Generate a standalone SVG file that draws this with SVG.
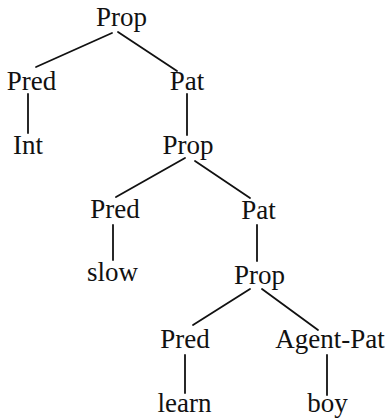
<svg xmlns="http://www.w3.org/2000/svg" width="388" height="418" viewBox="0 0 388 418">
<style>
text{font-family:"Liberation Serif","Times New Roman",serif;font-size:27px;fill:#111;text-anchor:middle}
.e line{stroke:#111;stroke-width:1.8;stroke-linecap:round}
</style>
<rect width="388" height="418" fill="#fff"/>
<g class="e" id="connectors">
<line x1="112" y1="33" x2="36" y2="67"/>
<line x1="118" y1="32" x2="177" y2="71"/>
<line x1="28" y1="94" x2="28" y2="133"/>
<line x1="187" y1="94" x2="187" y2="135"/>
<line x1="185" y1="158" x2="116" y2="197"/>
<line x1="195" y1="161" x2="250" y2="198"/>
<line x1="113" y1="225" x2="113" y2="260"/>
<line x1="257" y1="225" x2="257" y2="261"/>
<line x1="250" y1="289" x2="193" y2="325"/>
<line x1="262" y1="289" x2="318" y2="330"/>
<line x1="185" y1="355" x2="185" y2="393"/>
<line x1="327" y1="355" x2="327" y2="395"/>
</g>
<g id="prop1"><text x="121.5" y="26">Prop</text></g>
<g id="pred1"><text x="31.5" y="90">Pred</text></g>
<g id="int"><text x="28" y="154">Int</text></g>
<g id="pat1"><text x="187" y="90">Pat</text></g>
<g id="prop2"><text x="188" y="154">Prop</text></g>
<g id="pred2"><text x="115" y="218">Pred</text></g>
<g id="slow"><text x="112.5" y="281">slow</text></g>
<g id="pat2"><text x="258.5" y="219">Pat</text></g>
<g id="prop3"><text x="259.5" y="284">Prop</text></g>
<g id="pred3"><text x="185" y="348">Pred</text></g>
<g id="learn"><text x="184.5" y="412">learn</text></g>
<g id="agentpat"><text x="330" y="348">Agent-Pat</text></g>
<g id="boy"><text x="327.5" y="412">boy</text></g>
</svg>
